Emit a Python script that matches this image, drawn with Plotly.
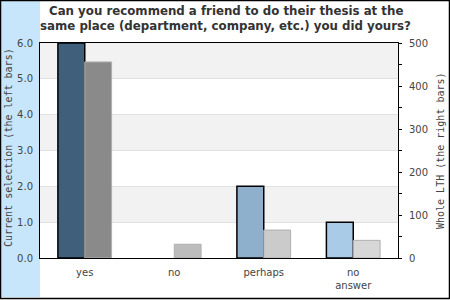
import plotly.graph_objects as go

categories = ["yes", "no", "perhaps", "no<br>answer"]
current_values = [6.0, 0.0, 2.0, 1.0]
lth_values = [456, 32, 65, 41]
current_colors = ["#3f5f7a", "#7f9fbf", "#8fb0cc", "#a9cbe8"]
current_outline = [1.5, 0, 1.5, 1.5]
lth_colors = ["#8a8a8a", "#bcbcbc", "#cbcbcb", "#d7d7d7"]
title_lines = ["Can you recommend a friend to do their thesis at the",
               "same place (department, company, etc.) you did yours?"]
left_title = "Current selection (the left bars)"
right_title = "Whole LTH (the right bars)"

W, H = 450, 300
L, R, T, B = 40, 52, 43, 42
pw, ph = W - L - R, H - T - B

def px_x(x):
    return (x - L) / pw

def px_y(y):
    return (H - B - y) / ph

fig = go.Figure()
fig.add_trace(go.Bar(
    x=categories, y=current_values, yaxis="y", width=0.3, offset=-0.3,
    marker=dict(color=current_colors, line=dict(color="#000000", width=current_outline)),
    showlegend=False, hoverinfo="skip"))
fig.add_trace(go.Bar(
    x=categories, y=lth_values, yaxis="y2", width=0.3, offset=0.0,
    marker=dict(color=lth_colors, line=dict(color="#b0b0b0", width=1)),
    showlegend=False, hoverinfo="skip"))

shapes = []
shapes.append(dict(type="rect", xref="paper", yref="paper",
                   x0=px_x(1), x1=px_x(40), y0=px_y(297), y1=px_y(1),
                   fillcolor="#c8e6fb", line=dict(width=0), layer="below"))
shapes.append(dict(type="rect", xref="paper", yref="paper",
                   x0=px_x(0.5), x1=px_x(449.5), y0=px_y(298.5), y1=px_y(0.5),
                   fillcolor="rgba(0,0,0,0)", line=dict(color="#000000", width=1.5)))
for lo in [1, 3, 5]:
    shapes.append(dict(type="rect", xref="paper", yref="y", x0=0, x1=1,
                       y0=lo, y1=lo + 1, fillcolor="#f2f2f2",
                       line=dict(width=0), layer="below"))

title_font = dict(family="DejaVu Sans", size=11.8, color="#333333", weight="bold")
mono_font = dict(family="DejaVu Sans Mono", size=10, color="#444444")
annotations = [
    dict(text=title_lines[0], xref="paper", yref="paper", x=px_x(226), y=px_y(11),
         xanchor="center", yanchor="middle", showarrow=False, font=title_font),
    dict(text=title_lines[1], xref="paper", yref="paper", x=px_x(226), y=px_y(26),
         xanchor="center", yanchor="middle", showarrow=False, font=title_font),
    dict(text=left_title, xref="paper", yref="paper", x=px_x(8), y=px_y(148),
         xanchor="center", yanchor="middle", textangle=-90, showarrow=False, font=mono_font),
    dict(text=right_title, xref="paper", yref="paper", x=px_x(440), y=px_y(151),
         xanchor="center", yanchor="middle", textangle=-90, showarrow=False, font=mono_font),
]

tick_font = dict(family="DejaVu Sans", size=10, color="#444444")
fig.update_layout(
    width=W, height=H,
    margin=dict(l=L, r=R, t=T, b=B, pad=0, autoexpand=False),
    paper_bgcolor="#ffffff", plot_bgcolor="#ffffff",
    shapes=shapes, annotations=annotations,
    xaxis=dict(showline=True, linecolor="#000000", linewidth=1, mirror=True,
               ticks="", showgrid=False, ticklabelstandoff=5, tickfont=tick_font,
               automargin=False),
    yaxis=dict(range=[0, 6], dtick=1, tickformat=".1f", showline=True,
               linecolor="#000000", linewidth=1, ticks="",
               gridcolor="#e0e0e0", gridwidth=1, zeroline=False,
               ticklabelstandoff=4, tickfont=tick_font, automargin=False),
    yaxis2=dict(range=[0, 500], dtick=100, overlaying="y", side="right",
                showline=True, linecolor="#000000", linewidth=1,
                ticks="outside", ticklen=3, tickcolor="#000000",
                minor=dict(dtick=50, ticks="outside", ticklen=3, tickcolor="#000000"),
                showgrid=False, zeroline=False,
                ticklabelstandoff=5, tickfont=tick_font, automargin=False),
)

fig.write_html("out.html")
